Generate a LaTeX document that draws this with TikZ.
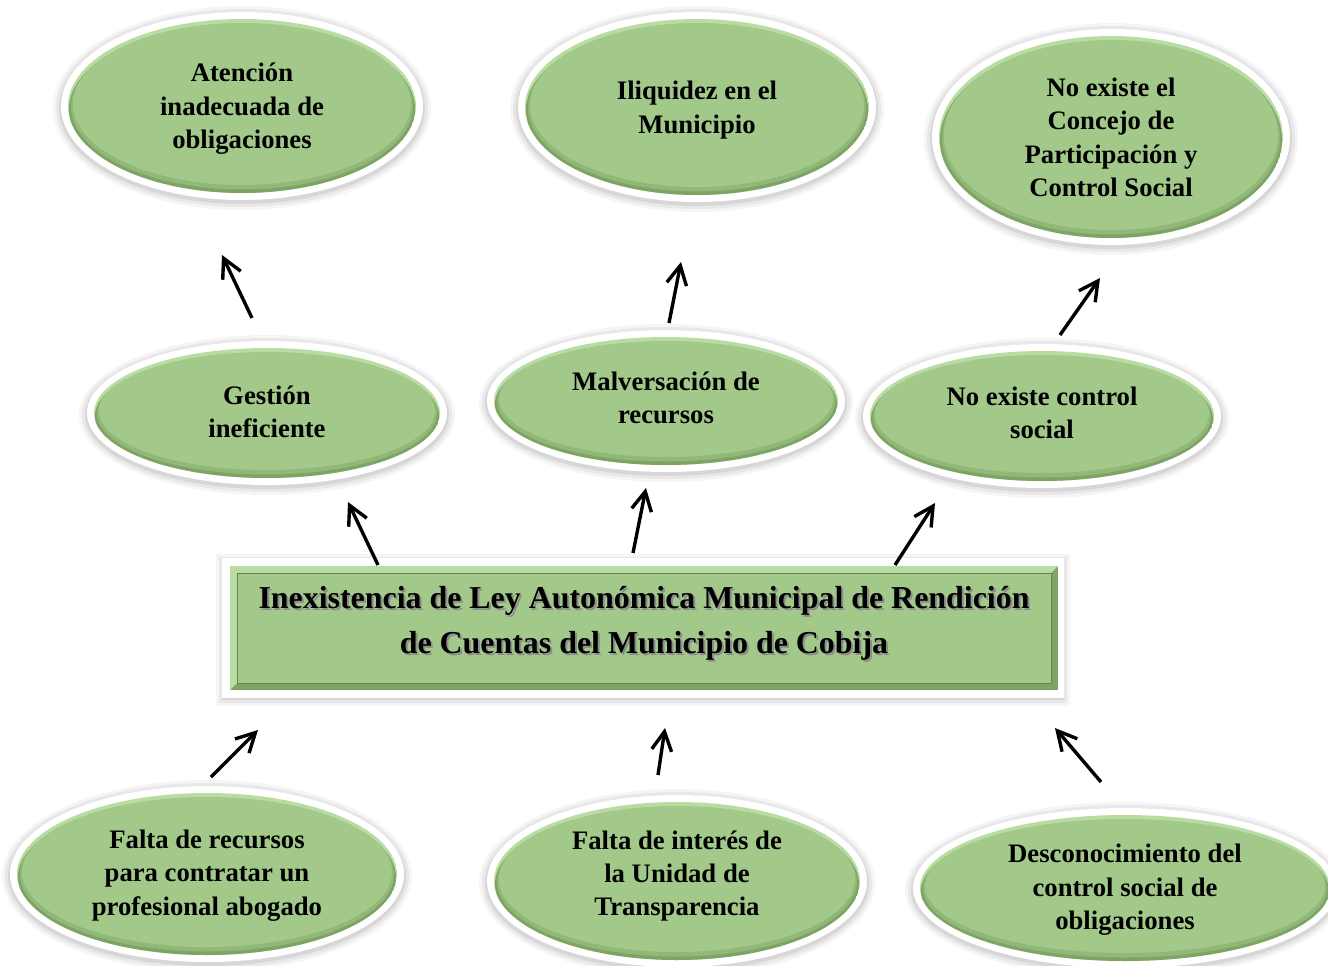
\documentclass[tikz,border=0pt]{standalone}
\usepackage{fontspec}
\setmainfont{Liberation Serif}
\usetikzlibrary{arrows.meta,shapes.geometric}
\definecolor{gM}{HTML}{A3C98A}
\definecolor{gD}{HTML}{7DA464}
\definecolor{gL}{HTML}{B9DCA2}
\colorlet{gMD}{gM!55!gD}
\tikzset{
  arr/.style={line width=3.4pt, -{Straight Barb[length=19pt,width=20pt]}},
  bubtext/.style={ellipse, inner sep=0pt, align=center, font=\fontsize{26.7}{33.4}\selectfont\bfseries},
  coretext/.style={rectangle, inner sep=0pt, align=center, font=\fontsize{31.9}{45}\selectfont\bfseries},
}
% name, x, y, rx, ry, text shift (down), text
\newcommand\bub[7]{%
  \foreach \k/\o in {15/0.04,12/0.05,9/0.07}{%
    \fill[black,opacity=\o] (#2,#3+2) ellipse [x radius=#4+\k, y radius=#5+\k];}
  \fill[white] (#2,#3) ellipse [x radius=#4+7, y radius=#5+7];
  \begin{scope}
    \clip (#2,#3) ellipse [x radius=#4, y radius=#5];
    \fill[gL] (#2,#3) ellipse [x radius=#4, y radius=#5];
    \fill[gD] (#2,#3+3) ellipse [x radius=#4-1, y radius=#5-2];
    \fill[gMD] (#2,#3+0.5) ellipse [x radius=#4-3, y radius=#5-4];
    \fill[gM] (#2,#3-2) ellipse [x radius=#4-5, y radius=#5-6];
  \end{scope}
  \node[bubtext, minimum width=2*#4, minimum height=2*#5] (#1) at (#2,#3+#6) {#7};
}
\begin{document}
\begin{tikzpicture}[x=1pt,y=-1pt]
\useasboundingbox (0,0) rectangle (1328,966);
\fill[white] (0,0) rectangle (1328,966);
% top row
\bub{aten}{242}{106}{174}{87}{3}{Atención\\inadecuada de\\obligaciones}
\bub{iliq}{697}{107}{172}{88}{3}{Iliquidez en el\\Municipio}
\bub{conc}{1111}{137}{172}{101}{0.5}{No existe el\\Concejo de\\Participación y\\Control Social}
% middle row
\bub{gest}{267}{413}{173}{65}{-1}{Gestión\\ineficiente}
\bub{malv}{666}{401}{172}{64}{-3}{Malversación de\\recursos}
\bub{ctrl}{1042}{416}{172}{65}{-3}{No existe control\\social}
% bottom row
\bub{falt}{207}{874}{190}{81}{1.5}{Falta de recursos\\para contratar un\\profesional abogado}
\bub{inte}{677}{881}{183}{79}{-5}{Falta de interés de\\la Unidad de\\Transparencia}
\bub{desc}{1125}{888}{205}{73}{2}{Desconocimiento del\\control social de\\obligaciones}
% central box
\foreach \k/\o in {14/0.04,11/0.05,8/0.07}{%
  \fill[black,opacity=\o] (222-\k+8,558-\k+10) rectangle (1064+\k-8,698+\k-6);}
\fill[white] (222,558) rectangle (1064,698);
\fill[gD] (230,566) rectangle (1058,690);
\fill[gL] (230,566) -- (1058,566) -- (1051,573) -- (237,573) -- (237,683) -- (230,690) -- cycle;
\fill[gM] (237,573) rectangle (1051,683);
\draw[gD!80!black, line width=0.6pt] (237,573) rectangle (1051,683);
\node[coretext, text=black!45, minimum width=814, minimum height=110] (coreshadow) at (646,625)
  {Inexistencia de Ley Autonómica Municipal de Rendición\\de Cuentas del Municipio de Cobija};
\node[coretext, minimum width=814, minimum height=110] (core) at (644,623)
  {Inexistencia de Ley Autonómica Municipal de Rendición\\de Cuentas del Municipio de Cobija};
% arrow end points
\coordinate (t1) at (252,318); \coordinate (h1) at (222,255);
\coordinate (t2) at (669,323); \coordinate (h2) at (681,262);
\coordinate (t3) at (1060,335); \coordinate (h3) at (1100,278);
\coordinate (t4) at (378,565); \coordinate (h4) at (348,502);
\coordinate (t5) at (633,553); \coordinate (h5) at (646,488);
\coordinate (t6) at (895,565); \coordinate (h6) at (935,503);
\coordinate (t7) at (211,777); \coordinate (h7) at (258,730);
\coordinate (t8) at (658,775); \coordinate (h8) at (665,728);
\coordinate (t9) at (1101,782); \coordinate (h9) at (1055,728);
\foreach \i in {1,...,9}{\draw[arr] (t\i) -- (h\i);}
\end{tikzpicture}
\end{document}
